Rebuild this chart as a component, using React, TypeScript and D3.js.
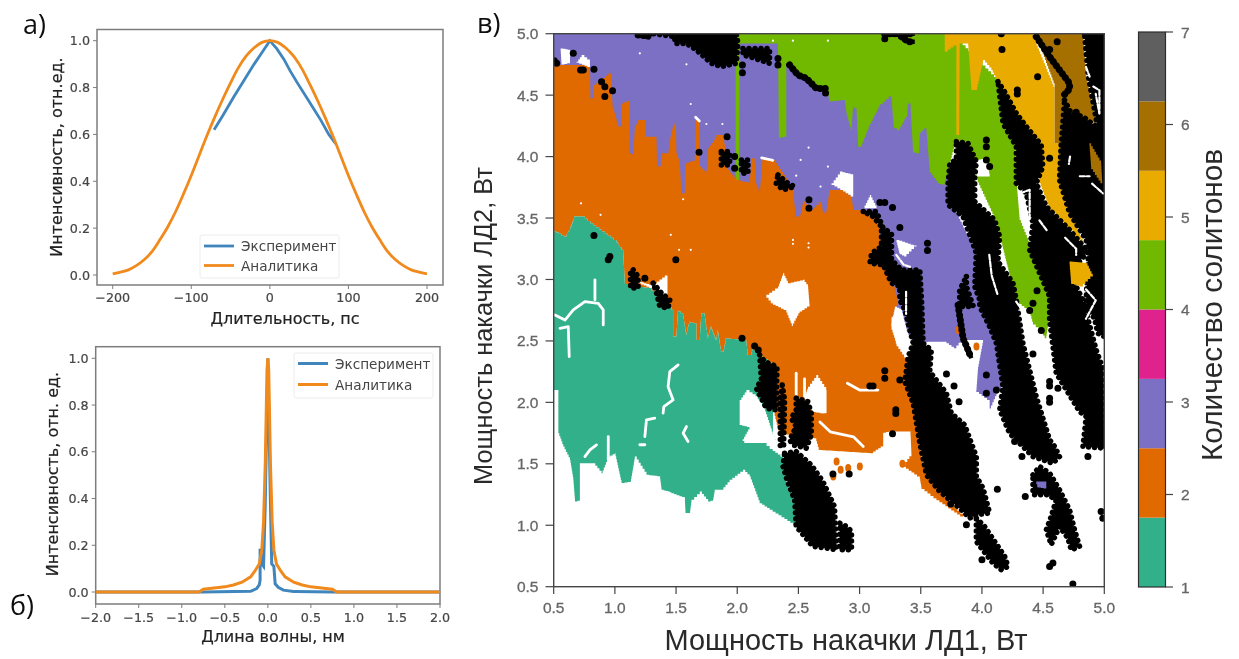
import React from "react";
import * as d3 from "d3";

type P = [number, number];

// ---------- panel a ----------
const pulseAnalyticX = [-200,-190,-180,-170,-160,-150,-140,-130,-120,-110,-100,-90,-80,-70,-60,-50,-40,-30,-20,-10,0,10,20,30,40,50,60,70,80,90,100,110,120,130,140,150,160,170,180,190,200];
const pulseAnalyticY = [.005,.012,.022,.04,.065,.10,.15,.205,.27,.345,.425,.51,.595,.675,.75,.82,.885,.935,.97,.993,1,.993,.97,.935,.885,.82,.75,.675,.595,.51,.425,.345,.27,.205,.15,.10,.065,.04,.022,.012,.005];
const pulseExpX = [-71,-60,-46,-33,-20,-10,0,9,18,26,35,50,65,75,84];
const pulseExpY = [.62,.68,.76,.83,.90,.95,1,.965,.92,.87,.82,.74,.66,.6,.56];
const pulseTicksX = [-200,-100,0,100,200];
const unitTicks = [0,.2,.4,.6,.8,1];

// ---------- panel b ----------
const specAnalyticX = [-2,-.8,-.75,-.6,-.5,-.4,-.3,-.2,-.15,-.1,-.07,-.05,-.03,-.01,0,.01,.03,.05,.07,.1,.15,.2,.3,.4,.5,.6,.75,.8,2];
const specAnalyticY = [0,0,.012,.018,.022,.03,.042,.065,.09,.12,.18,.3,.55,.95,1,.95,.55,.3,.18,.12,.09,.065,.042,.03,.022,.018,.012,0,0];
const specExpX = [-2,-.75,-.2,-.13,-.1,-.09,-.09,-.07,-.05,-.03,0,.03,.045,.07,.085,.12,.18,.3,.75,2];
const specExpY = [0,0,.003,.015,.03,.05,.185,.12,.11,.38,1,.38,.12,.11,.035,.02,.008,.002,0,0];
const specTicksX = [-2,-1.5,-1,-.5,0,.5,1,1.5,2];

// ---------- panel в: regions in (pump 1 W, pump 2 W) ----------
const mapTicks = [.5,1,1.5,2,2.5,3,3.5,4,4.5,5];

const purpleRegion: P[] = [[.5,5],[3.3,5],[3.7,4.2],[3.764,3.59],[3.954,3.21],[3.968,2.85],[4.009,2.78],[4.118,2.48],[4.172,2.13],[4.118,2.05],[4.063,1.925],[4.063,2.02],[3.954,2.10],[3.968,2.29],[4.009,2.508],[3.846,2.508],[3.791,2.44],[3.71,2.494],[3.574,2.494],[3.519,2.48],[3.35,2.6],[3.2,2.8],[.5,3.6]];

const orangeUpper: P[] = [[.5,4.745],[.796,4.745],[.8,4.474],[.823,4.461],[.823,4.583],[.946,4.677],[.967,4.677],[.981,4.406],[1.027,4.244],[1.054,4.244],[1.054,4.433],[1.117,4.461],[1.117,4.027],[1.15,4.013],[1.163,4.244],[1.19,4.298],[1.245,4.298],[1.253,4.162],[1.34,4.162],[1.345,3.919],[1.373,3.919],[1.381,4.027],[1.435,4.027],[1.462,4.217],[1.498,4.298],[1.503,4.027],[1.53,3.946],[1.544,3.702],[1.571,3.702],[1.577,3.946],[1.653,3.973],[1.661,4.298],[1.688,4.298],[1.694,3.919],[1.748,3.864],[1.762,4.068],[1.83,4.176],[1.884,4.176],[1.925,3.892],[1.993,3.81],[2.102,3.783],[2.115,3.986],[2.142,3.986],[2.151,3.783],[2.183,3.702],[2.205,3.986],[2.292,3.973],[2.455,3.729],[2.477,3.512],[2.51,3.512],[2.537,3.634],[2.605,3.566],[2.686,3.648],[2.7,3.54],[2.727,3.553],[2.754,3.729],[2.866,3.729],[2.934,3.661],[2.948,3.566],[3.03,3.566],[3.152,3.458],[3.193,3.16],[3.288,2.916],[3.315,2.807],[3.261,2.67],[3.261,2.59],[3.302,2.48],[3.41,2.318],[3.41,2.155],[3.451,2.02],[3.478,1.857],[3.506,1.532],[3.574,1.37],[3.71,1.207],[3.846,1.071],[3.628,1.22],[3.506,1.315],[3.492,1.397],[3.356,1.491],[3.424,1.586],[3.416,1.763],[3.261,1.763],[3.193,1.749],[3.193,1.641],[3.111,1.586],[2.672,1.614],[2.646,1.708],[2.564,1.72],[2.346,1.749],[2.306,1.912],[2.333,2.291]];

const tealBoundary: P[] = [[2.183,2.399],[2.129,2.44],[2.115,2.386],[2.088,2.386],[2.074,2.508],[1.911,2.521],[1.889,2.413],[1.87,2.413],[1.843,2.589],[1.83,2.508],[1.789,2.616],[1.762,2.521],[1.734,2.725],[1.707,2.725],[1.694,2.508],[1.666,2.508],[1.666,2.643],[1.612,2.657],[1.585,2.548],[1.558,2.725],[1.517,2.752],[1.503,2.535],[1.476,2.535],[1.476,2.753],[1.45,2.8],[1.3,2.93],[1.15,2.95],[1.082,2.97],[1.068,3.241],[1.014,3.322],[.823,3.458],[.755,3.512],[.674,3.512],[.646,3.431],[.606,3.35],[.5,3.404]];

const tealLower: P[] = [[.5,2.101],[.538,2.101],[.538,1.749],[.578,1.64],[.633,1.532],[.66,1.37],[.674,1.193],[.714,1.207],[.714,1.505],[.823,1.505],[.891,1.424],[.946,1.559],[1,1.586],[1.054,1.343],[1.128,1.356],[1.163,1.559],[1.258,1.41],[1.367,1.397],[1.381,1.288],[1.435,1.275],[1.462,1.261],[1.571,1.221],[1.577,1.099],[1.612,1.099],[1.626,1.207],[1.694,1.275],[1.762,1.193],[1.802,1.207],[1.816,1.288],[1.87,1.288],[1.938,1.37],[2.047,1.451],[2.102,1.397],[2.183,1.18],[2.265,1.126],[2.482,.99],[2.469,1.207],[2.401,1.37],[2.374,1.559],[2.292,1.749],[2.292,1.912],[2.333,2.291]];

const greenRegion: P[] = [[1.911,5],[3.75,5],[4.145,4.6],[4.172,4.298],[4.267,4.108],[4.281,3.81],[4.308,3.485],[4.417,3.214],[4.553,2.862],[4.566,2.833],[4.553,2.697],[4.526,2.521],[4.485,2.589],[4.417,2.657],[4.39,2.752],[4.281,2.833],[4.118,3.485],[3.954,3.837],[3.954,3.973],[3.85,4.1],[3.791,4.135],[3.696,3.77],[3.655,3.783],[3.574,3.892],[3.546,4.23],[3.492,4.176],[3.487,4.027],[3.438,4.041],[3.416,4.433],[3.397,4.433],[3.389,4.325],[3.329,4.217],[3.28,4.244],[3.261,4.488],[3.166,4.406],[3.084,4.244],[3.016,4.081],[2.989,4.081],[2.975,4.393],[2.948,4.406],[2.934,4.217],[2.894,4.366],[2.88,4.461],[2.758,4.447],[2.744,4.515],[2.727,4.515],[2.428,4.759],[2.401,4.75],[2.401,4.162],[2.341,4.149],[2.333,4.921],[2.02,4.921],[2.015,3.77],[1.987,3.77],[1.987,4.948]];

const amberRegion: P[] = [[3.696,5],[3.696,4.854],[3.791,4.921],[3.791,4.176],[3.813,4.176],[3.818,4.921],[3.886,4.921],[3.914,4.542],[3.954,4.542],[4.009,4.786],[4.077,4.705],[4.131,4.596],[4.254,4.352],[4.485,4.081],[4.471,3.783],[4.553,3.566],[4.743,3.376],[4.866,3.241],[4.79,3.4],[4.634,3.81],[4.648,4.108],[4.594,4.108],[4.594,4.569],[4.417,5]];
const brownRegion: P[] = [[4.444,5],[4.825,5],[4.852,4.65],[4.934,4.271],[4.852,4.298],[4.662,4.379],[4.648,4.108],[4.594,4.108],[4.594,4.596]];
const brownPatch: P[] = [[4.879,4.108],[4.974,3.946],[4.983,3.783],[4.893,3.919]];
const amberPatch: P[] = [[4.716,3.146],[4.852,3.133],[4.906,3.024],[4.825,2.943],[4.73,2.97]];
const purplePatch: P[] = [[4.444,1.356],[4.526,1.356],[4.526,1.3],[4.46,1.31]];

const whiteHoles: P[][] = [
  [[2.238,2.875],[2.333,2.943],[2.374,3.051],[2.414,2.97],[2.537,2.997],[2.578,2.943],[2.591,2.78],[2.51,2.725],[2.455,2.622],[2.401,2.752],[2.292,2.806]],
  [[2.55,2.047],[2.578,2.128],[2.646,2.223],[2.727,2.101],[2.714,1.912],[2.618,1.925]],
  [[3.288,2.779],[3.342,2.752],[3.41,2.48],[3.41,2.32],[3.302,2.48],[3.261,2.643]],
  [[2.676,2.101],[2.73,2.101],[2.73,1.912],[2.676,1.912]],
  [[.557,4.88],[.633,4.867],[.633,4.759],[.565,4.745]],
  [[.687,4.772],[.728,4.826],[.796,4.772],[.796,4.73]],
  [[2.771,3.783],[2.839,3.878],[2.948,3.851],[2.948,3.675],[2.866,3.729]],
  [[3.03,3.58],[3.084,3.688],[3.138,3.58]],
  [[3.302,3.322],[3.465,3.268],[3.383,3.187],[3.329,3.214]],
  [[3.954,3.973],[4.036,3.986],[4.063,3.837],[3.954,3.837]],
  [[2.02,2.02],[2.075,2.1],[2.15,2.05],[2.22,1.95],[2.29,1.74],[2.374,1.56],[2.29,1.62],[2.24,1.67],[2.07,1.67],[2.045,1.7],[2.1,1.8],[2.02,1.82]],
  [[1.17,2.99],[1.3,2.95],[1.43,3.05],[1.43,2.83],[1.37,2.9]],
];

const whiteTraces: P[][] = [
  [[.51,2.711],[.592,2.67],[.66,2.752],[.755,2.82],[.864,2.806],[.905,2.752],[.905,2.63]],
  [[.551,2.603],[.619,2.616],[.627,2.372]],
  [[.837,2.997],[.837,2.835]],
  [[1.517,2.305],[1.449,2.25],[1.435,2.128],[1.476,2.02],[1.4,1.966],[1.394,1.912]],
  [[1.326,1.871],[1.258,1.857],[1.245,1.722]],
  [[.946,1.722],[.946,1.532]],
  [[.755,1.559],[.796,1.614],[.85,1.654]],
  [[1.585,1.803],[1.558,1.749],[1.598,1.681]],
  [[1.204,1.655],[1.245,1.655]],
  [[2.482,2.237],[2.482,2.047]],
  [[2.55,2.19],[2.55,2.05]],
  [[2.9,2.155],[3.0,2.1],[3.15,2.1]],
  [[2.676,1.84],[2.76,1.76],[2.95,1.72],[3.03,1.64]],
  [[1.66,4.32],[1.69,4.29]],
  [[2.2,3.99],[2.29,3.97]],
  [[4.06,3.38],[4.09,3.27]],
  [[4.06,3.2],[4.08,3.03],[4.13,2.87]],
  [[4.31,3.7],[4.39,3.73],[4.39,3.49]],
  [[4.47,3.48],[4.53,3.4]],
  [[4.68,3.34],[4.77,3.25],[4.77,3.2]],
  [[4.72,4.0],[4.71,3.94]],
  [[4.91,4.57],[4.96,4.54],[4.96,4.35],[4.93,4.51]],
  [[4.85,4.73],[4.88,4.65]],
  [[4.8,3.84],[4.88,3.84]],
  [[4.85,2.92],[4.93,2.83],[4.85,2.68]],
  [[4.28,2.82],[4.36,2.7]],
  [[4.9,3.78],[4.99,3.7]],
  [[3.3,3.2],[3.36,3.12],[3.42,3.1]],
  [[3.38,2.9],[3.38,2.72]],
];

const blackBands: P[][] = [
  [[1.313,5],[1.993,5],[2.006,4.921],[1.993,4.759],[1.87,4.732],[1.789,4.759],[1.666,4.867],[1.585,4.921],[1.49,4.921],[1.49,4.975]],
  [[2.047,4.88],[2.265,4.88],[2.265,4.759],[2.183,4.786],[2.102,4.813],[2.047,4.826]],
  [[1.87,4.041],[1.938,4.041],[1.938,3.932],[1.87,3.932]],
  [[2.034,3.973],[2.088,3.973],[2.088,3.864],[2.034,3.864]],
  [[2.333,3.851],[2.414,3.783],[2.469,3.756],[2.374,3.729],[2.319,3.783]],
  [[1.15,3.078],[1.19,3.024],[1.19,2.93],[1.128,2.93],[1.128,3.051]],
  [[1.313,2.97],[1.381,2.889],[1.449,2.835],[1.435,2.767],[1.367,2.78],[1.34,2.889]],
  [[2.183,2.386],[2.224,2.332],[2.292,2.305],[2.325,2.291],[2.319,1.939],[2.238,1.952],[2.156,2.115],[2.197,2.183]],
  [[2.368,2.142],[2.387,2.02],[2.379,1.641],[2.352,1.641],[2.352,2.02]],
  [[2.482,2.034],[2.578,2.006],[2.605,1.912],[2.605,1.735],[2.564,1.627],[2.455,1.654],[2.428,1.695],[2.482,1.803],[2.441,1.871],[2.482,1.939]],
  [[2.387,1.586],[2.482,1.6],[2.605,1.491],[2.7,1.356],[2.795,1.153],[2.809,.8],[2.727,.814],[2.618,.828],[2.482,.99],[2.469,1.207],[2.406,1.37],[2.374,1.478]],
  [[2.839,1.017],[2.894,.99],[2.934,.95],[2.934,.8],[2.839,.8]],
  [[3.03,3.553],[3.138,3.553],[3.193,3.417],[3.261,3.376],[3.261,3.16],[3.342,3.078],[3.492,3.078],[3.506,2.835],[3.519,2.481],[3.587,2.427],[3.574,2.25],[3.71,2.074],[3.75,1.911],[3.859,1.817],[3.954,1.559],[3.954,1.397],[4.009,1.302],[4.063,1.099],[3.954,1.085],[3.9,1.058],[3.818,1.139],[3.655,1.275],[3.547,1.41],[3.492,1.668],[3.438,1.993],[3.37,2.169],[3.397,2.372],[3.438,2.481],[3.37,2.752],[3.329,2.833],[3.329,2.943],[3.261,2.97],[3.193,3.119],[3.084,3.133],[3.098,3.214],[3.179,3.268],[3.179,3.43],[3.111,3.512]],
  [[3.791,4.122],[3.886,4.108],[3.954,3.959],[3.941,3.824],[3.941,3.634],[4.104,3.485],[4.145,3.35],[4.131,3.146],[4.254,2.97],[4.281,2.835],[4.335,2.481],[4.444,2.047],[4.553,1.695],[4.594,1.641],[4.634,1.559],[4.58,1.505],[4.417,1.559],[4.226,1.749],[4.145,1.939],[4.172,2.128],[4.118,2.481],[4.063,2.616],[3.982,2.779],[3.982,2.833],[3.941,2.943],[3.954,3.214],[3.846,3.512],[3.723,3.607],[3.723,3.783],[3.737,3.946],[3.791,3.973]],
  [[3.873,3.024],[3.873,2.943],[3.93,2.78],[3.818,2.781],[3.818,2.916]],
  [[4.131,4.61],[4.185,4.528],[4.281,4.352],[4.362,4.244],[4.485,4.095],[4.498,3.919],[4.444,3.783],[4.526,3.593],[4.716,3.404],[4.866,3.227],[4.798,3.146],[4.702,3.105],[4.77,2.943],[4.825,2.835],[4.934,2.426],[4.988,2.277],[5,1.627],[4.825,1.64],[4.852,1.884],[4.798,1.925],[4.607,2.237],[4.553,2.67],[4.553,2.862],[4.39,3.241],[4.417,3.458],[4.362,3.702],[4.281,3.783],[4.281,4.081],[4.172,4.271]],
  [[4.838,5],[5,5],[5,4.1],[4.94,4.27],[4.87,4.65]],
  [[4.675,4.46],[4.73,4.352],[4.825,4.325],[4.934,4.244],[5,4.2],[5,2.535],[4.947,2.562],[4.92,2.684],[4.866,2.752],[4.852,2.835],[4.87,3.2],[4.852,3.322],[4.716,3.54],[4.634,3.81],[4.648,4.108]],
  [[4.417,1.41],[4.471,1.478],[4.553,1.424],[4.634,1.288],[4.716,1.126],[4.757,.963],[4.798,.828],[4.73,.8],[4.702,.895],[4.634,.99],[4.566,.841],[4.526,.963],[4.566,1.072],[4.607,1.207],[4.539,1.248],[4.417,1.248]],
  [[3.954,1.058],[4.022,.99],[4.186,.746],[4.213,.665],[4.158,.638],[4.09,.692],[3.954,.868]],
];

const blackTrails: P[][] = [
  [[1.19,4.99],[1.272,4.98]],
  [[2.428,4.745],[2.496,4.664],[2.564,4.637],[2.646,4.555],[2.722,4.555],[2.722,4.515]],
  [[3.206,5],[3.451,5]],
  [[3.206,5],[3.206,4.935]],
  [[3.342,4.975],[3.397,4.935],[3.451,4.935]],
  [[4.444,4.975],[4.553,4.813],[4.716,4.596],[4.716,4.55],[4.67,4.5]],
  [[3.805,2.79],[3.846,2.521],[3.886,2.427],[3.913,2.359]],
];

const blackDotsX = [.66,.524,.505,.742,.72,.829,.891,.918,.918,.981,1.917,1.688,1.979,1.979,2.586,2.586,.829,.959,.946,1.498,1.245,2.039,2.142,2.172,2.042,2.042,2.333,2.333,2.782,2.915,3.084,3.11,3.206,3.206,3.329,3.296,3.296,3.269,3.71,3.772,3.813,3.745,3.873,4,4.126,4.327,4.354,4.267,4.417,4.485,4.553,4.553,4.553,4.553,4.621,4.743,4.553,4.58,4.974,4.988,4.866,4.164,4.455,4.289,4.289,4.553,3.329,3.555,3.555,4.158,4.615,4.553,4.77,4.45,4.417,4.39,3.166,3.206,3.269,4.036,4.036,4.036,4.063,4.036,4.036,4.118];
const blackDotsY = [4.84,4.759,4.78,4.705,4.705,4.71,4.61,4.569,4.488,4.536,4.162,4.035,4,3.905,3.648,3.58,3.358,3.187,3.16,3.16,3.011,2.521,2.459,2.427,4.745,4.683,4.799,4.745,1.418,1.418,2.134,2.134,2.258,2.196,2.183,1.939,1.91,1.744,2.231,2.134,2.006,1.172,1.004,.719,1.294,1.559,1.234,1.681,2.394,2.584,2.169,2.134,2.034,2,2.115,.522,.665,.692,1.112,1.058,1.559,4.872,4.65,4.542,4.509,3.986,3.423,3.295,3.236,5,4.935,4.872,4.36,2.908,2.807,2.748,3.626,3.626,3.585,4.135,4.081,3.973,3.92,2.223,2.074,2.101];

const orangeDotsX = [2.812,2.845,2.907,3.002,2.785,3.806,3.955,3.35];
const orangeDotsY = [1.518,1.451,1.465,1.478,1.397,2.589,2.454,1.5];
const whiteDotsX = [1.204,1.585,1.62,1.748,1.879,2.292,2.455,2.741,.723,1.558,.883,1.457,1.525,1.62,2.583,2.518,2.482,2.681,2.741,2.455,2.455,2.583,2.583];
const whiteDotsY = [4.84,4.751,4.428,4.265,4.265,4.943,4.943,4.943,3.62,3.653,3.526,3.363,3.241,3.241,4.073,3.973,3.845,3.756,3.919,3.322,3.29,3.295,3.26];

// ---------- colorbar ----------
const levelColors = ["#32b08a","#e06900","#7b70c4","#e0218e","#71b800","#e9ab00","#a66f00","#5f5f5f"];
const barTicks = [1,2,3,4,5,6,7];

const BLUE = "#3f86bd";
const ORANGE = "#f08a1d";
const AXIS = "#7d7d7d";
const LABEL = "#444";
const MAP_LABEL = "#666";
const SANS = "'DejaVu Sans', sans-serif";
const ARIAL = "'Liberation Sans', Arial, sans-serif";
const CELL = 0.025; // grid step of the parameter scan, W

const zip = (xs: number[], ys: number[]): P[] => xs.map((x, i) => [x, ys[i]]);

// The map was scanned on a grid: region outlines follow grid cells.
function onGrid(pts: P[]): P[] {
  const out: P[] = [pts[0]];
  const closed = [...pts, pts[0]];
  for (let i = 1; i < closed.length; i++) {
    const a = closed[i - 1];
    const b = closed[i];
    const n = Math.max(1, Math.ceil(Math.max(Math.abs(b[0] - a[0]), Math.abs(b[1] - a[1])) / CELL));
    for (let k = 1; k <= n; k++) {
      const px = a[0] + ((b[0] - a[0]) * k) / n;
      const py = a[1] + ((b[1] - a[1]) * k) / n;
      out.push([px, out[out.length - 1][1]]);
      out.push([px, py]);
    }
  }
  return out;
}

function LinePanel(props: any) {
  const { x0, x1, y0, y1, ticksX, exp, ana, legend } = props;
  const x = d3.scaleLinear().domain(props.xDomain).range(props.xRange);
  const y = d3.scaleLinear().domain([0, 1]).range(props.yRange);
  const line = d3.line<P>().x((d) => x(d[0])).y((d) => y(d[1]));
  const anaLine = props.smooth ? line.curve(d3.curveCatmullRom)(ana) : line(ana);
  line.curve(d3.curveLinear);
  return (
    <g>
      <rect x={x0} y={y0} width={x1 - x0} height={y1 - y0} fill="#fff" stroke={AXIS} strokeWidth={1.5} />
      <path d={line(exp)!} fill="none" stroke={BLUE} strokeWidth={props.lw} />
      <path d={anaLine!} fill="none" stroke={ORANGE} strokeWidth={props.lw} />
      {ticksX.map((t: number) => (
        <g key={t}>
          <line x1={x(t)} x2={x(t)} y1={y1} y2={y1 + 4} stroke={AXIS} strokeWidth={1} />
          <text x={x(t)} y={props.xLabelY} textAnchor="middle" fontFamily={SANS} fontSize={12.7} fill={LABEL} stroke={LABEL} strokeWidth={0.2}>{props.fmt(t)}</text>
        </g>
      ))}
      {unitTicks.map((t) => (
        <g key={t}>
          <line x1={x0 - 4} x2={x0} y1={y(t)} y2={y(t)} stroke={AXIS} strokeWidth={1} />
          <text x={x0 - 7} y={y(t) + 4.6} textAnchor="end" fontFamily={SANS} fontSize={12.7} fill={LABEL} stroke={LABEL} strokeWidth={0.2}>{t.toFixed(1)}</text>
        </g>
      ))}
      <text x={props.xTitleX} y={props.xTitleY} textAnchor="middle" fontFamily={SANS} fontSize={16} fill="#222" stroke="#222" strokeWidth={0.2}>{props.xTitle}</text>
      <text transform={`translate(${props.yTitleX},${props.yTitleY}) rotate(-90)`} textAnchor="middle" fontFamily={SANS} fontSize={16} fill="#222" stroke="#222" strokeWidth={0.2}>{props.yTitle}</text>
      <rect x={legend.x} y={legend.y} width={legend.w} height={legend.h} fill="#fff" stroke="#ececec" rx={2} />
      <line x1={legend.x + 4} x2={legend.x + 34} y1={legend.ly[0]} y2={legend.ly[0]} stroke={BLUE} strokeWidth={props.lw} />
      <line x1={legend.x + 4} x2={legend.x + 34} y1={legend.ly[1]} y2={legend.ly[1]} stroke={ORANGE} strokeWidth={props.lw} />
      <text x={legend.x + 41} y={legend.ly[0] + 5} fontFamily={SANS} fontSize={13.6} fill="#444">Эксперимент</text>
      <text x={legend.x + 41} y={legend.ly[1] + 5} fontFamily={SANS} fontSize={13.6} fill="#444">Аналитика</text>
    </g>
  );
}

function SolitonMap() {
  const x = d3.scaleLinear().domain([.5, 5]).range([553.7, 1104.3]);
  const y = d3.scaleLinear().domain([.5, 5]).range([586.7, 33.7]);
  const line = d3.line<P>().x((d) => x(d[0])).y((d) => y(d[1]));
  const poly = (pts: P[]) => line(pts)! + "Z";
  const region = (pts: P[]) => poly(onGrid(pts));
  const orangeShape = [...orangeUpper, ...tealBoundary];
  const tealShape = [...tealBoundary, ...tealLower];
  const bar = d3.scaleLinear().domain([1, 7]).range([587, 32]);
  const binW = 6 / levelColors.length;
  return (
    <g>
      <defs>
        <clipPath id="mapClip"><rect x={553.7} y={33.7} width={550.6} height={553} /></clipPath>
      </defs>
      <g clipPath="url(#mapClip)">
        <path d={region(purpleRegion)} fill={levelColors[2]} />
        <path d={region(greenRegion)} fill={levelColors[4]} />
        <path d={region(amberRegion)} fill={levelColors[5]} />
        <path d={region(brownRegion)} fill={levelColors[6]} />
        <path d={region(orangeShape)} fill={levelColors[1]} />
        <path d={region(tealShape)} fill={levelColors[0]} />
        {whiteHoles.map((h, i) => <path key={i} d={region(h)} fill="#fff" />)}
        {whiteTraces.slice(0, 16).map((t, i) => <path key={i} d={line(t)!} fill="none" stroke="#fff" strokeWidth={2.8} strokeLinejoin="round" strokeLinecap="round" />)}
        {orangeDotsX.map((v, i) => <ellipse key={i} cx={x(v)} cy={y(orangeDotsY[i])} rx={3} ry={4} fill={levelColors[1]} />)}
        {zip(whiteDotsX, whiteDotsY).map((d, i) => <circle key={i} cx={x(d[0])} cy={y(d[1])} r={1.1} fill="#fff" />)}
        {blackBands.map((b, i) => (
          <g key={i}>
            <path d={poly(b)} fill="#000" />
            <path d={poly(b)} fill="none" stroke="#000" strokeWidth={5.5} strokeLinecap="round" strokeDasharray="0.01 6" />
          </g>
        ))}
        {blackTrails.map((b, i) => (
          <g key={i}>
            <path d={line(b)!} fill="none" stroke="#000" strokeWidth={7} strokeLinecap="round" strokeDasharray="0.01 5" />
            <path d={line(b)!} fill="none" stroke="#000" strokeWidth={4.5} strokeLinejoin="round" />
          </g>
        ))}
        {zip(blackDotsX, blackDotsY).map((d, i) => <circle key={i} cx={x(d[0])} cy={y(d[1])} r={3.5} fill="#000" />)}
        <path d={region(brownPatch)} fill={levelColors[6]} />
        <path d={region(amberPatch)} fill={levelColors[5]} />
        <path d={region(purplePatch)} fill={levelColors[2]} />
        {whiteTraces.slice(16).map((t, i) => <path key={i} d={line(t)!} fill="none" stroke="#fff" strokeWidth={2.2} strokeLinejoin="round" strokeLinecap="round" strokeDasharray="5 2" />)}
      </g>
      <rect x={553.7} y={33.7} width={550.6} height={553} fill="none" stroke="#444" strokeWidth={1.4} />
      {mapTicks.map((t) => (
        <g key={t}>
          <line x1={x(t)} x2={x(t)} y1={586.7} y2={594} stroke="#444" strokeWidth={1.2} />
          <line x1={545.5} x2={553.7} y1={y(t)} y2={y(t)} stroke="#444" strokeWidth={1.2} />
          <text x={x(t)} y={613} textAnchor="middle" fontFamily={ARIAL} fontSize={15.5} fill={MAP_LABEL} stroke={MAP_LABEL} strokeWidth={0.3}>{t.toFixed(1)}</text>
          <text x={538.5} y={y(t) + 5.5} textAnchor="end" fontFamily={ARIAL} fontSize={15.5} fill={MAP_LABEL} stroke={MAP_LABEL} strokeWidth={0.3}>{t.toFixed(1)}</text>
        </g>
      ))}
      <text x={846} y={650} textAnchor="middle" fontFamily={ARIAL} fontSize={29} fill="#2a2a2a">Мощность накачки ЛД1, Вт</text>
      <text transform="translate(492,326) rotate(-90)" textAnchor="middle" fontFamily={ARIAL} fontSize={25.4} fill="#2a2a2a">Мощность накачки ЛД2, Вт</text>

      {levelColors.map((c, i) => (
        <rect key={c} x={1138.5} width={27} y={bar(1 + (i + 1) * binW)} height={bar(1 + i * binW) - bar(1 + (i + 1) * binW)} fill={c} />
      ))}
      <rect x={1138.5} y={32} width={27} height={555} fill="none" stroke="#2d2d2d" strokeWidth={1.2} />
      {barTicks.map((t) => (
        <g key={t}>
          <line x1={1165.5} x2={1173} y1={bar(t)} y2={bar(t)} stroke="#444" strokeWidth={1.2} />
          <text x={1181} y={bar(t) + 5.5} fontFamily={ARIAL} fontSize={15.5} fill={MAP_LABEL} stroke={MAP_LABEL} strokeWidth={0.3}>{t}</text>
        </g>
      ))}
      <text transform="translate(1222,305) rotate(-90)" textAnchor="middle" fontFamily={ARIAL} fontSize={29.8} fill="#2a2a2a">Количество солитонов</text>
    </g>
  );
}

export default function App() {
  const fmtInt = (v: number) => String(v).replace("-", "−");
  const fmtOne = (v: number) => v.toFixed(1).replace("-", "−");
  return (
    <svg width={1239} height={659} viewBox="0 0 1239 659" style={{ position: "absolute", left: 0, top: 0, display: "block", background: "#fff" }}>
      <defs>
        <filter id="soft" x="0" y="0" width="100%" height="100%"><feGaussianBlur stdDeviation="0.6" /></filter>
      </defs>
      <g filter="url(#soft)">
        <LinePanel
          x0={97} x1={443} y0={29.5} y1={285}
          xDomain={[-200, 200]} xRange={[112.7, 427]} yRange={[275, 40.7]}
          ticksX={pulseTicksX} fmt={fmtInt} smooth
          exp={zip(pulseExpX, pulseExpY)} ana={zip(pulseAnalyticX, pulseAnalyticY)}
          xTitle="Длительность, пс" yTitle="Интенсивность, отн.ед."
          xLabelY={302} xTitleY={324} xTitleX={285} yTitleX={62} yTitleY={157}
          legend={{ x: 200, y: 235, w: 139, h: 43, ly: [246, 265.5] }} lw={2.8}
        />
        <LinePanel
          x0={95.7} x1={440} y0={346.7} y1={604}
          xDomain={[-2, 2]} xRange={[95.7, 440]} yRange={[592, 358.3]}
          ticksX={specTicksX} fmt={fmtOne}
          exp={zip(specExpX, specExpY)} ana={zip(specAnalyticX, specAnalyticY)}
          xTitle="Длина волны, нм" yTitle="Интенсивность, отн. ед."
          xLabelY={622} xTitleY={642} xTitleX={273} yTitleX={58} yTitleY={474}
          legend={{ x: 294, y: 353, w: 139, h: 45, ly: [363.5, 384.5] }} lw={3}
        />
        <SolitonMap />
        <text x={23} y={34} fontFamily="'Open Sans', sans-serif" fontSize={27} fill="#111">а)</text>
        <text x={477} y={33} fontFamily="'Open Sans', sans-serif" fontSize={27} fill="#111">в)</text>
        <text x={10} y={615} fontFamily="'Open Sans', sans-serif" fontSize={27} fill="#111">б)</text>
      </g>
    </svg>
  );
}
